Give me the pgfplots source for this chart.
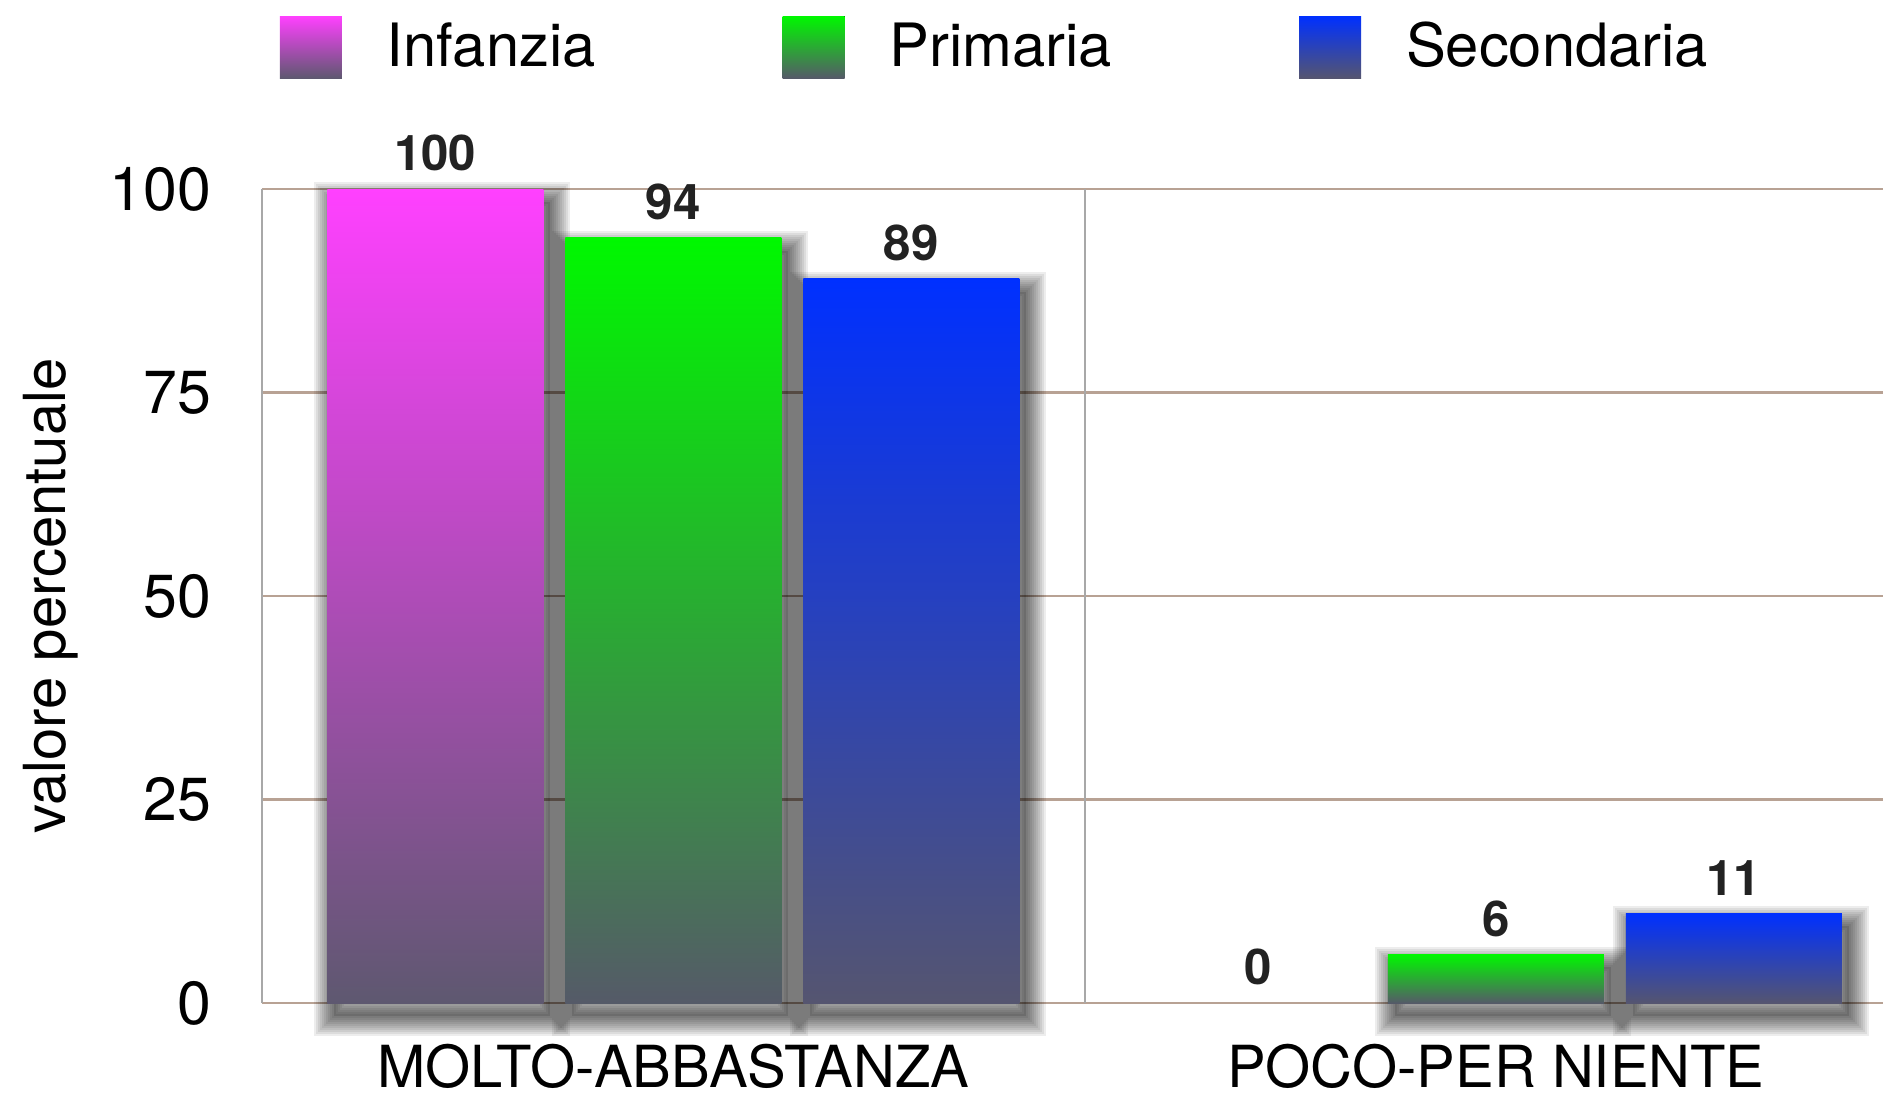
\documentclass[border=0pt]{standalone}
\usepackage{fontspec}
\setmainfont{TeX Gyre Heros}
\usepackage{pgfplots}
\pgfplotsset{compat=1.18}

\definecolor{infTop}{HTML}{FF40FF}
\definecolor{infBot}{HTML}{5E5870}
\definecolor{priTop}{HTML}{00F800}
\definecolor{priBot}{HTML}{555A68}
\definecolor{secTop}{HTML}{0030FF}
\definecolor{secBot}{HTML}{555570}
\definecolor{gridbrown}{HTML}{B8A294}
\definecolor{axisgray}{HTML}{A8A8A8}
\definecolor{labelgray}{HTML}{222222}

% soft drop shadow: translucent strokes + fill, shifted, drawn before the bars
\tikzset{
  sh/.style={transform canvas={xshift=0.07cm, yshift=-0.13cm}},
  sst/.style={preaction={draw=black, draw opacity=0.07, line width=#1, sh}},
  barshadow/.style={draw=none, fill=none,
    sst=0.40cm, sst=0.36cm, sst=0.32cm, sst=0.28cm, sst=0.24cm,
    sst=0.20cm, sst=0.16cm, sst=0.12cm, sst=0.08cm, sst=0.04cm,
    preaction={fill=black, fill opacity=0.12, sh}},
  infbar/.style={draw=none, top color=infTop, bottom color=infBot},
  pribar/.style={draw=none, top color=priTop, bottom color=priBot},
  secbar/.style={draw=none, top color=secTop, bottom color=secBot},
}

\begin{document}
\begin{tikzpicture}
\useasboundingbox (0,0) rectangle (18.83cm,10.96cm);
\begin{axis}[
  /pgf/number format/assume math mode=true,
  at={(2.62cm,0.93cm)}, anchor=south west,
  scale only axis, width=16.21cm, height=8.14cm,
  xmin=-0.5, xmax=1.4706, ymin=0, ymax=100,
  clip=false,
  axis x line*=bottom, axis y line*=left,
  x axis line style={draw=gridbrown, line width=0.7pt},
  y axis line style={draw=axisgray, line width=0.6pt},
  major tick length=0pt,
  xtick={0,1}, xticklabels={MOLTO-ABBASTANZA, POCO-PER NIENTE},
  ytick={0,25,50,75,100},
  ymajorgrids,
  major grid style={gridbrown, line width=0.7pt},
  extra x ticks={0.5}, extra x tick labels={},
  extra x tick style={grid=major, major grid style={axisgray, line width=0.6pt}},
  yticklabel style={font=\fontsize{17.3}{20}\selectfont, inner sep=0pt, anchor=east, xshift=-0.50cm},
  xticklabel style={font=\fontsize{16.5}{19}\selectfont, inner sep=0pt, text depth=0pt, anchor=north, yshift=-0.40cm},
  ylabel={valore percentuale},
  every axis y label/.style={at={(axis description cs:-0.1302,0.5)}, rotate=90, anchor=center,
    inner sep=0pt, font=\fontsize{16.5}{20}\selectfont},
  bar width=2.16cm,
  every node near coord/.append style={font=\fontsize{14}{16}\selectfont\bfseries, text=labelgray, anchor=south, inner sep=0pt, yshift=0.17cm},
  legend image code/.code={\fill[#1] (0cm,-0.31cm) rectangle (0.62cm,0.31cm);},
  legend style={font=\fontsize{17}{20}\selectfont, draw=none, fill=none,
    inner sep=0pt, outer sep=0pt, nodes={inner sep=0pt}, cells={anchor=west},
    /tikz/every odd column/.append style={column sep=0.45cm},
    /tikz/every even column/.append style={column sep=1.87cm},
    at={(axis description cs:0.0111,1.1744)}, anchor=west},
  legend columns=-1,
]
% shadows
\addplot[ybar, bar shift=-2.38cm, barshadow, forget plot] coordinates {(0,100)};
\addplot[ybar, bar shift=0cm, barshadow, forget plot] coordinates {(0,94)};
\addplot[ybar, bar shift=0cm, barshadow, forget plot] coordinates {(1,6)};
\addplot[ybar, bar shift=2.38cm, barshadow, forget plot] coordinates {(0,89)};
\addplot[ybar, bar shift=2.38cm, barshadow, forget plot] coordinates {(1,11)};
% Infanzia
\addplot[ybar, bar shift=-2.38cm, infbar, forget plot, nodes near coords,
  every node near coord/.append style={xshift=-2.38cm}] coordinates {(0,100)};
\addplot[only marks, mark=none, forget plot, nodes near coords,
  every node near coord/.append style={xshift=-2.38cm}] coordinates {(1,0)};
% Primaria
\addplot[ybar, bar shift=0cm, pribar, forget plot, nodes near coords] coordinates {(0,94)};
\addplot[ybar, bar shift=0cm, pribar, forget plot, nodes near coords] coordinates {(1,6)};
% Secondaria
\addplot[ybar, bar shift=2.38cm, secbar, forget plot, nodes near coords,
  every node near coord/.append style={xshift=2.38cm}] coordinates {(0,89)};
\addplot[ybar, bar shift=2.38cm, secbar, forget plot, nodes near coords,
  every node near coord/.append style={xshift=2.38cm}] coordinates {(1,11)};

\addlegendimage{draw=none, top color=infTop, bottom color=infBot}
\addlegendentry{Infanzia}
\addlegendimage{draw=none, top color=priTop, bottom color=priBot}
\addlegendentry{Primaria}
\addlegendimage{draw=none, top color=secTop, bottom color=secBot}
\addlegendentry{Secondaria}
\end{axis}
\end{tikzpicture}
\end{document}
